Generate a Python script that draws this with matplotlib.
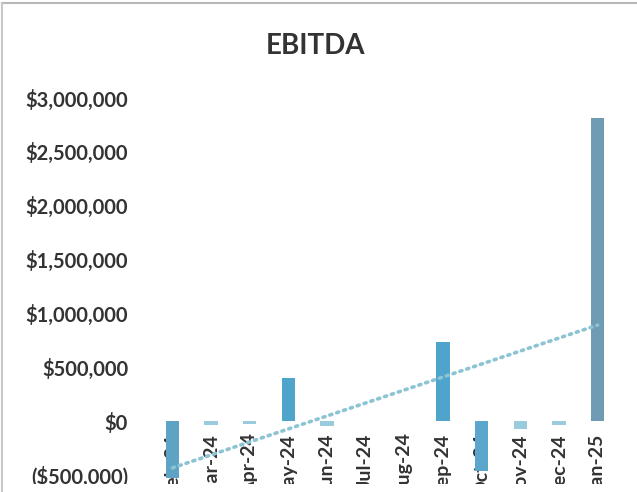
import numpy as np
import matplotlib
matplotlib.use('Agg')
import matplotlib.pyplot as plt
from matplotlib.ticker import FuncFormatter
from matplotlib.lines import Line2D
from matplotlib.patches import Rectangle

# Monthly EBITDA (USD)
months = ['Feb-24', 'Mar-24', 'Apr-24', 'May-24', 'Jun-24', 'Jul-24',
          'Aug-24', 'Sep-24', 'Oct-24', 'Nov-24', 'Dec-24', 'Jan-25']
ebitda = [-530000, -40000, -25000, 400000, -45000, 0,
          0, 730000, -460000, -70000, -35000, 2810000]
y_ticks = [-500000, 0, 500000, 1000000, 1500000, 2000000, 2500000, 3000000]

bar_colors = ['#5fa3c4', '#9acbdc', '#9acbdc', '#4ea4cb', '#9acbdc', '#9acbdc',
              '#9acbdc', '#4ea4cb', '#5aa6cc', '#9acbdc', '#9acbdc', '#6f9bb4']

plt.rcParams['font.family'] = ['Lato', 'DejaVu Sans']
plt.rcParams['font.weight'] = 'bold'

W, H = 637, 492
fig = plt.figure(figsize=(W / 100, H / 100), dpi=100)
# axes box in pixels: left 153, right 617, top (3M) at y=98, bottom at y=481
ymin, ymax = -560000, 3000000
px_per = (475 - 98) / 3500000
top_px = 98
bot_px = 421 + (-ymin) * px_per
ax = fig.add_axes([153 / W, 1 - bot_px / H, (617 - 153) / W, (bot_px - top_px) / H])

x = np.arange(len(months))
# bars sit above the tick labels, as in the original (negative bars hide them)
ax.bar(x, ebitda, width=0.34, color=bar_colors, clip_on=False, zorder=3)

# linear trendline
slope, intercept = np.polyfit(x, ebitda, 1)
ax.plot(x, slope * x + intercept, linestyle=(0, (0.6, 1.4)), color='#8cc4d4',
        linewidth=2.6, dash_capstyle='round', zorder=4)

# x labels hang just below the zero line
ax.spines['bottom'].set_position(('data', 0))
for s in ax.spines.values():
    s.set_visible(False)

ax.set_xlim(-0.5, len(months) - 0.5)
ax.set_ylim(ymin, ymax)
ax.set_yticks(y_ticks)
ax.yaxis.set_major_formatter(FuncFormatter(
    lambda v, p: '$0' if v == 0 else (f'(${abs(v):,.0f})' if v < 0 else f'${v:,.0f}')))
ax.set_xticks(x)
ax.set_xticklabels(months)

ax.tick_params(axis='both', length=0, labelcolor='#333333')
ax.tick_params(axis='x', pad=9, labelrotation=90, labelsize=14)
ax.tick_params(axis='y', pad=18, labelsize=14.5)

fig.text(316 / W, 1 - 46 / H, 'EBITDA', ha='center', va='center',
         fontsize=20, fontweight='bold', color='#333333')

# the screenshot is cut off a few pixels above the bottom edge
fig.add_artist(Rectangle((0, 0), 1, 8 / H, transform=fig.transFigure,
                         facecolor='white', edgecolor='none', zorder=10))

# chart frame (only top and left edges visible)
fig.add_artist(Line2D([2 / W, 1], [1 - 3 / H, 1 - 3 / H], color='#b8b8b8', linewidth=1.5, zorder=11))
fig.add_artist(Line2D([2 / W, 2 / W], [0, 1 - 3 / H], color='#c8c8c8', linewidth=1.5, zorder=11))

fig.savefig('out.png', dpi=100)
